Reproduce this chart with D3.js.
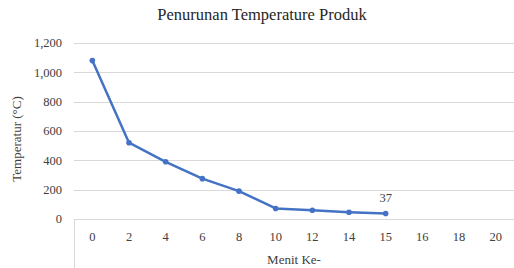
<!DOCTYPE html>
<html>
<head>
<meta charset="utf-8">
<script src="https://cdn.jsdelivr.net/npm/d3@7"></script>
<style>
  body { margin: 0; background: #fff; }
  svg text { font-family: "Liberation Serif", "Times New Roman", Times, "DejaVu Serif", serif; }
</style>
</head>
<body>
<div id="chart"></div>
<script>
const categories = ["0", "2", "4", "6", "8", "10", "12", "14", "15", "16", "18", "20"];
const temperatures = [1080, 520, 390, 275, 190, 72, 60, 46, 37];
const yTicks = [0, 200, 400, 600, 800, 1000, 1200];
const labelIndex = 8;

const FONT = "'Liberation Serif', 'Times New Roman', Times, serif";
const width = 514;
const height = 268;
const margin = { top: 43, right: 0, bottom: 49, left: 74 };

const svg = d3.select("#chart").append("svg")
  .attr("width", width)
  .attr("height", height)
  .attr("font-family", FONT);

const x = d3.scaleBand()
  .domain(categories)
  .range([margin.left, width - margin.right]);

const y = d3.scaleLinear()
  .domain([0, 1200])
  .range([height - margin.bottom, margin.top]);

// gridlines
svg.append("g")
  .selectAll("line")
  .data(yTicks)
  .join("line")
  .attr("x1", margin.left)
  .attr("x2", width - margin.right)
  .attr("y1", (d) => Math.round(y(d)) + 0.5)
  .attr("y2", (d) => Math.round(y(d)) + 0.5)
  .attr("stroke", "#d9d9d9")
  .attr("stroke-width", 1);

// category box below the zero line
svg.append("line")
  .attr("x1", margin.left + 0.5)
  .attr("x2", margin.left + 0.5)
  .attr("y1", y(0))
  .attr("y2", height)
  .attr("stroke", "#d9d9d9");

// y tick labels
svg.append("g")
  .selectAll("text")
  .data(yTicks)
  .join("text")
  .attr("x", 62)
  .attr("y", (d) => y(d))
  .attr("dy", "0.35em")
  .attr("text-anchor", "end")
  .attr("font-size", 12.5)
  .attr("fill", "#404040")
  .text((d) => d3.format(",")(d));

// x tick labels
svg.append("g")
  .selectAll("text")
  .data(categories)
  .join("text")
  .attr("x", (d) => x(d) + x.bandwidth() / 2)
  .attr("y", 237)
  .attr("dy", "0.35em")
  .attr("text-anchor", "middle")
  .attr("font-size", 12.5)
  .attr("fill", "#404040")
  .text((d) => d);

const points = temperatures.map((v, i) => ({ cat: categories[i], value: v }));
const px = (d) => x(d.cat) + x.bandwidth() / 2;

svg.append("path")
  .datum(points)
  .attr("fill", "none")
  .attr("stroke", "#4472c4")
  .attr("stroke-width", 2.5)
  .attr("stroke-linejoin", "round")
  .attr("d", d3.line().x(px).y((d) => y(d.value)));

svg.append("g")
  .selectAll("circle")
  .data(points)
  .join("circle")
  .attr("cx", px)
  .attr("cy", (d) => y(d.value))
  .attr("r", 2.8)
  .attr("fill", "#4472c4");

// data label on last point
const last = points[labelIndex];
svg.append("text")
  .attr("x", px(last))
  .attr("y", y(last.value) - 16)
  .attr("dy", "0.35em")
  .attr("text-anchor", "middle")
  .attr("font-size", 12.5)
  .attr("fill", "#404040")
  .text(last.value);

// title
svg.append("text")
  .attr("x", 262)
  .attr("y", 20)
  .attr("text-anchor", "middle")
  .attr("font-size", 16.5)
  .attr("fill", "#262626")
  .text("Penurunan Temperature  Produk");

// axis titles
svg.append("text")
  .attr("transform", `translate(21,${(margin.top + y(0)) / 2 + 8}) rotate(-90)`)
  .attr("text-anchor", "middle")
  .attr("font-size", 13)
  .attr("fill", "#404040")
  .text("Temperatur (°C)");

svg.append("text")
  .attr("x", 294)
  .attr("y", 259)
  .attr("dy", "0.35em")
  .attr("text-anchor", "middle")
  .attr("font-size", 13)
  .attr("fill", "#404040")
  .text("Menit Ke-");
</script>
</body>
</html>
